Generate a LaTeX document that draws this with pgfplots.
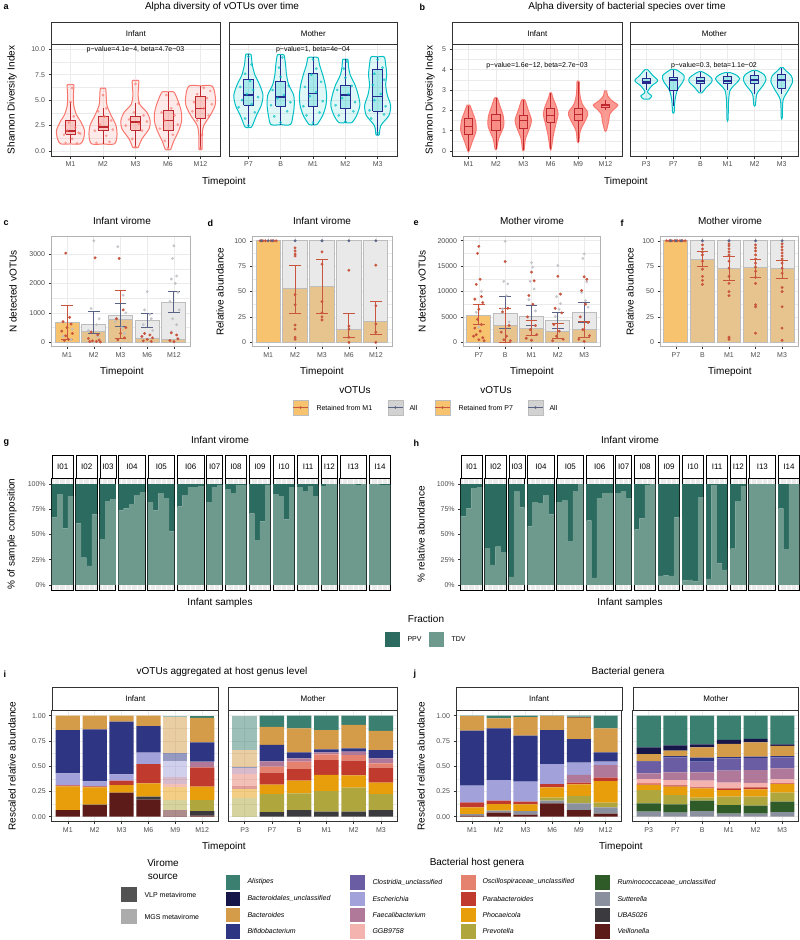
\documentclass[border=0pt]{standalone}
\usepackage{fontspec}
\setmainfont{Liberation Sans}
\usepackage{pgfplots}
\pgfplotsset{compat=1.18}
\usepackage{pgfplotstable}

\definecolor{inf}{HTML}{F8766D}
\definecolor{infd}{HTML}{C0282F}
\definecolor{mot}{HTML}{00BFC4}
\definecolor{motd}{HTML}{262A8F}
\definecolor{gridc}{HTML}{EBEBEB}
\definecolor{tickc}{HTML}{4D4D4D}
\definecolor{frame}{HTML}{333333}
\definecolor{oran}{HTML}{F7C36E}
\definecolor{oranm}{HTML}{E7C48E}
\definecolor{barg}{HTML}{E9E9E9}
\definecolor{barb}{HTML}{BDBDBD}
\definecolor{redp}{HTML}{C8553D}
\definecolor{slate}{HTML}{5B6385}
\definecolor{greyp}{HTML}{BDBEC6}
\definecolor{ppv}{HTML}{2C6B5F}
\definecolor{tdv}{HTML}{6E9A8E}
\definecolor{cAli}{HTML}{3A7F6F}
\definecolor{cBdl}{HTML}{171649}
\definecolor{cBac}{HTML}{D49B48}
\definecolor{cBif}{HTML}{2E3583}
\definecolor{cClo}{HTML}{6B5DA3}
\definecolor{cEsc}{HTML}{A3A1D9}
\definecolor{cFae}{HTML}{B07899}
\definecolor{cGGB}{HTML}{F5B3B0}
\definecolor{cOsc}{HTML}{E5826F}
\definecolor{cPar}{HTML}{C13A2E}
\definecolor{cPho}{HTML}{E89E0A}
\definecolor{cPre}{HTML}{AFA73E}
\definecolor{cRum}{HTML}{2F5B28}
\definecolor{cSut}{HTML}{8B909F}
\definecolor{cUBA}{HTML}{3A3A3F}
\definecolor{cVei}{HTML}{5C1B18}

\newcommand{\ft}{\fontsize{7}{8.4}\selectfont}
\newcommand{\fs}{\fontsize{8}{9.6}\selectfont}
\newcommand{\fl}{\fontsize{10}{12}\selectfont}
\newcommand{\fb}{\fontsize{9}{10.8}\selectfont\bfseries}

\pgfplotsset{
 gg/.style={scale only axis, anchor=north west,
  axis line style={draw=frame, line width=0.6pt},
  tick align=outside, major tick length=2.5pt, minor tick length=0pt,
  tick style={draw=frame, line width=0.5pt},
  xtick pos=left, ytick pos=left,
  scaled ticks=false,
  tick label style={font=\ft, text=tickc},
  /pgf/number format/assume math mode=true,
  xmajorgrids, ymajorgrids,
  major grid style={draw=gridc, line width=0.6pt},
  minor grid style={draw=gridc, line width=0.3pt}},
 nolab/.style={yticklabels={}, ytick style={draw=none}},
 vax/.style={gg, clip=false, xmin=0.4, height=112pt, minor y tick num=1, yminorgrids},
 cf/.style={gg, height=110pt, xmin=0.4, xmax=5.6, xtick={1,...,5}, minor y tick num=1, yminorgrids, axis line style={draw=gray!60, line width=0.8pt}},
 ipt/.style={only marks, mark=*, mark size=1.2pt, inf, opacity=0.55, mark options={draw=none}},
 mpt/.style={only marks, mark=*, mark size=1.2pt, mot, opacity=0.6, mark options={draw=none}},
 barA/.style={ybar, bar width=0.9, bar shift=0pt, fill=barg, draw=barb, line width=1pt},
 barR/.style={ybar, bar width=0.9, bar shift=0pt, fill=oranm, draw=barb, line width=1pt},
 barR1/.style={ybar, bar width=0.9, bar shift=0pt, fill=oran, draw=barb, line width=1pt},
 rpt/.style={only marks, mark=*, mark size=1.25pt, redp, mark options={draw=none}},
 gpt/.style={only marks, mark=*, mark size=1.25pt, greyp, opacity=0.8, mark options={draw=none}},
 spt/.style={only marks, mark=*, mark size=1.25pt, slate, mark options={draw=none}},
 fac/.style={scale only axis, anchor=north west, height=112pt, ymin=-5, ymax=106,
  axis background/.style={fill=gridc},
  axis line style={draw=black, line width=0.6pt},
  xtick={1,...,57}, xticklabels={}, xtick style={draw=none},
  xmajorgrids, major x grid style={draw=white, line width=0.9pt},
  ytick=\empty, ybar stacked, bar width=1,
  every axis plot/.append style={draw=none},
  tick label style={font=\ft, text=tickc},
  /pgf/number format/assume math mode=true},
 facy/.style={ytick={0,25,50,75,100}, yticklabels={0\%,25\%,50\%,75\%,100\%}, ytick pos=left, tick align=outside, major tick length=2.5pt, ytick style={draw=frame, line width=0.5pt}},
 ij/.style={gg, height=111.7pt, ymin=-0.0495, ymax=1.056, xmin=0.4, xmax=6.6, xtick={1,...,6}, ybar stacked, bar width=0.9, ytick={0,0.25,0.5,0.75,1}, yticklabels={0.00,0.25,0.50,0.75,1.00}, minor y tick num=1, yminorgrids},
}

% violin: #1 table, #2 position, #3 colour, #4 fill opacity
\newcommand{\vio}[4]{%
 \addplot[fill=#3, fill opacity=#4, draw=none, smooth] table[x expr=#2+\thisrow{w}, y=y]{#1};
 \addplot[fill=#3, fill opacity=#4, draw=none, smooth] table[x expr=#2-\thisrow{w}, y=y]{#1};
 \addplot[draw=#3, line width=1pt, smooth] table[x expr=#2+\thisrow{w}, y=y]{#1};
 \addplot[draw=#3, line width=1pt, smooth] table[x expr=#2-\thisrow{w}, y=y]{#1};
}
% box: pos, lw, lq, med, uq, uw, line colour, fill colour, fill opacity
\newcommand{\bx}[9]{%
 \pgfmathsetmacro\bxl{#1-0.15}\pgfmathsetmacro\bxr{#1+0.15}%
 \addplot[draw=#7, line width=0.7pt] coordinates {(#1,#2)(#1,#3)};
 \addplot[draw=#7, line width=0.7pt] coordinates {(#1,#5)(#1,#6)};
 \addplot[draw=#7, fill=#8, fill opacity=#9, line width=0.7pt] coordinates {(\bxl,#3)(\bxr,#3)(\bxr,#5)(\bxl,#5)(\bxl,#3)};
 \addplot[draw=#7, line width=1.5pt] coordinates {(\bxl,#4)(\bxr,#4)};
}
% error bar: x, low, high, colour
\newcommand{\eb}[4]{%
 \pgfmathsetmacro\ebl{#1-0.22}\pgfmathsetmacro\ebrr{#1+0.22}%
 \addplot[draw=#4, line width=1pt] coordinates {(#1,#2)(#1,#3)};
 \addplot[draw=#4, line width=1pt] coordinates {(\ebl,#2)(\ebrr,#2)};
 \addplot[draw=#4, line width=1pt] coordinates {(\ebl,#3)(\ebrr,#3)};
}
\newcommand{\stk}[2]{\pgfplotsinvokeforeach{Vei,UBA,Sut,Rum,Pre,Pho,Par,Osc,GGB,Fae,Esc,Clo,Bif,Bac,Bdl,Ali}{\addplot[fill=c##1, draw=none, #2] table[x=x,y=##1]{#1};}}
\newcommand{\gfac}[7]{%
\begin{axis}[fac, at={(#1pt,-478pt)}, width=#2pt, xmin=#3, xmax=#4, #7]
\addplot[fill=tdv] table[x=x,y=t]{#6};
\addplot[fill=ppv] table[x=x,y=p]{#6};
\end{axis}
\node[draw=black, line width=0.6pt, fill=white, minimum width=#2pt, minimum height=23pt, inner sep=0pt, anchor=north west, font=\fs] at (#1pt,-455pt) {#5};
}

% ---------- violin profiles (y, half width) ----------
\pgfplotstableread{
y w
0.7 0
0.7 0.3
1.2 0.4
2.0 0.43
2.8 0.33
3.6 0.18
4.5 0.1
5.5 0.09
6.5 0.1
6.5 0
}\vaA
\pgfplotstableread{
y w
0.7 0
0.7 0.35
1.5 0.43
2.5 0.4
3.5 0.25
4.5 0.12
5.3 0.1
6.15 0.08
6.15 0
}\vaB
\pgfplotstableread{
y w
0.35 0
0.35 0.08
1.2 0.2
2.2 0.42
3.0 0.45
3.8 0.35
4.6 0.13
5.5 0.08
6.9 0.1
6.9 0
}\vaC
\pgfplotstableread{
y w
0.15 0
0.15 0.08
1.0 0.18
2.0 0.33
3.0 0.42
4.0 0.4
5.0 0.3
5.8 0.18
5.8 0
}\vaD
\pgfplotstableread{
y w
0.2 0
0.2 0.05
1.5 0.05
2.5 0.1
3.5 0.3
4.5 0.45
5.5 0.45
6.4 0.35
6.4 0
}\vaE
\pgfplotstableread{
y w
2.35 0
2.35 0.1
3.5 0.25
4.5 0.4
5.5 0.45
6.5 0.35
7.5 0.2
8.5 0.12
9.5 0.08
9.5 0
}\vaF
\pgfplotstableread{
y w
2.6 0
2.6 0.3
3.5 0.38
4.5 0.42
5.5 0.4
6.5 0.25
7.5 0.18
8.5 0.15
9.45 0.1
9.45 0
}\vaG
\pgfplotstableread{
y w
2.6 0
2.6 0.12
3.5 0.3
4.5 0.4
5.5 0.42
6.5 0.38
7.5 0.3
8.5 0.2
9.2 0.15
9.2 0
}\vaH
\pgfplotstableread{
y w
2.8 0
2.8 0.2
3.5 0.35
4.5 0.45
5.5 0.4
6.5 0.3
7.5 0.15
8.3 0.1
9.0 0.08
9.0 0
}\vaI
\pgfplotstableread{
y w
1.6 0
1.6 0.05
2.5 0.1
3.5 0.35
4.5 0.4
5.5 0.3
6.5 0.25
7.5 0.28
8.5 0.25
9.25 0.2
9.25 0
}\vaJ
\pgfplotstableread{
y w
0 0
0 0.02
0.5 0.15
1.0 0.28
1.5 0.25
2.0 0.12
2.25 0.05
2.25 0
}\vbA
\pgfplotstableread{
y w
0.1 0
0.1 0.03
0.6 0.1
1.2 0.28
1.7 0.27
2.2 0.15
2.6 0.05
2.6 0
}\vbB
\pgfplotstableread{
y w
0.05 0
0.05 0.03
0.6 0.08
1.1 0.22
1.5 0.3
2.0 0.18
2.5 0.06
2.5 0
}\vbC
\pgfplotstableread{
y w
0.1 0
0.1 0.02
0.8 0.1
1.4 0.2
1.8 0.27
2.2 0.2
2.6 0.08
2.85 0.03
2.85 0
}\vbD
\pgfplotstableread{
y w
0.45 0
0.45 0.03
1.0 0.08
1.6 0.3
1.9 0.35
2.3 0.15
2.8 0.06
3.4 0.04
3.4 0
}\vbE
\pgfplotstableread{
y w
1.0 0
1.0 0.03
1.5 0.12
1.8 0.15
2.05 0.3
2.25 0.45
2.45 0.25
2.7 0.08
2.95 0.04
2.95 0
}\vbF
\pgfplotstableread{
y w
2.55 0
2.55 0.1
2.7 0.2
2.9 0.05
3.2 0.2
3.45 0.42
3.7 0.25
4.0 0.05
4.0 0
}\vbG
\pgfplotstableread{
y w
1.9 0
1.9 0.03
2.5 0.06
3.0 0.15
3.4 0.35
3.7 0.4
4.0 0.1
4.0 0
}\vbH
\pgfplotstableread{
y w
2.85 0
2.85 0.05
3.1 0.2
3.4 0.42
3.6 0.4
3.8 0.2
3.9 0.05
3.9 0
}\vbI
\pgfplotstableread{
y w
1.55 0
1.55 0.02
2.5 0.04
3.0 0.1
3.3 0.3
3.55 0.45
3.75 0.3
3.85 0.1
3.85 0
}\vbJ
\pgfplotstableread{
y w
2.25 0
2.25 0.03
2.8 0.08
3.2 0.3
3.5 0.42
3.75 0.35
3.95 0.1
3.95 0
}\vbK
\pgfplotstableread{
y w
1.65 0
1.65 0.02
2.5 0.05
3.0 0.25
3.4 0.4
3.7 0.35
3.95 0.15
4.1 0.05
4.1 0
}\vbL

% ---------- g / h fractions ----------
\pgfplotstableread{
x t p
1 67 33
2 90 10
3 56 44
4 88 12
5 61 39
6 27 73
7 19 81
8 70 30
9 45 55
10 83 17
11 85 15
12 74 26
13 76 24
14 80 20
15 89 11
16 92 8
17 82 18
18 74 26
19 91 9
20 86 14
21 53 47
22 78 22
23 89 11
24 97 3
25 97 3
26 98 2
27 82 18
28 97 3
29 99 1
30 95 5
31 91 9
32 99 1
33 99 1
34 71 29
35 44 56
36 63 37
37 99 1
38 90 10
39 88 12
40 65 35
41 97 3
42 97 3
43 93 7
44 98 2
45 88 12
46 98 2
47 100 0
48 100 0
49 100 0
50 100 0
51 100 0
52 99 1
53 100 0
54 100 0
55 100 0
56 99 1
57 99 1
}\gtab
\pgfplotstableread{
x t p
1 68 32
2 76 24
3 96 4
4 97 3
5 36 64
6 20 80
7 38 62
8 32 68
9 8 92
10 93 7
11 77 23
12 58 42
13 82 18
14 81 19
15 89 11
16 70 30
17 82 18
18 84 16
19 43 57
20 93 7
21 100 0
22 64 36
23 7 93
24 86 14
25 91 9
26 91 9
27 91 9
28 93 7
29 86 14
30 55 45
31 66 34
32 99 1
33 100 0
34 9 91
35 9.5 90.5
36 9 91
37 67 33
38 4.5 95.5
39 5 95
40 3.5 96.5
41 87 13
42 6 94
43 99 1
44 21.5 78.5
45 15 85
46 36 64
47 83 17
48 98 2
49 100 0
50 100 0
51 100 0
52 100 0
53 100 0
54 76 24
55 35 65
56 100 0
57 100 0
}\htab

% ---------- i / j genera ----------
\pgfplotstableread{
x Vei UBA Sut Rum Pre Pho Par Osc GGB Fae Esc Clo Bif Bac Bdl Ali
1 0.066 0 0 0 0 0.234 0.01 0 0 0 0.12 0 0.428 0.142 0 0
2 0.115 0.005 0 0 0 0.17 0.01 0 0 0 0.05 0 0.515 0.135 0 0
3 0.238 0 0 0 0 0.075 0.043 0 0 0 0.064 0 0.52 0.06 0 0
4 0.17 0.03 0 0 0 0.13 0.19 0 0 0 0.114 0 0.263 0.103 0 0
5 0 0 0 0 0 0 0 0 0 0 0 0 0 0 0 0
6 0.01 0.046 0 0 0.109 0.132 0.191 0 0 0.057 0 0 0.191 0.241 0 0.023
}\tiI
\pgfplotstableread{
x Vei UBA Sut Rum Pre Pho Par Osc GGB Fae Esc Clo Bif Bac Bdl Ali
1 0 0 0 0 0 0 0 0 0 0 0 0 0 0 0 0
2 0 0 0 0 0 0 0 0 0 0 0 0 0 0 0 0
3 0 0 0 0 0 0 0 0 0 0 0 0 0 0 0 0
4 0 0 0 0 0 0 0 0 0 0 0 0 0 0 0 0
5 0.07 0 0 0 0.095 0.132 0 0.026 0 0.067 0.165 0 0.072 0.356 0 0.017
6 0 0 0 0 0 0 0 0 0 0 0 0 0 0 0 0
}\tiIm
\pgfplotstableread{
x Vei UBA Sut Rum Pre Pho Par Osc GGB Fae Esc Clo Bif Bac Bdl Ali
1 0 0 0 0 0 0 0 0 0 0 0 0 0 0 0 0
2 0 0.046 0 0 0.178 0.093 0.119 0.059 0 0.053 0 0 0.162 0.18 0 0.11
3 0 0.066 0 0 0.164 0.126 0.114 0.075 0 0.033 0 0 0.059 0.238 0 0.125
4 0 0.05 0 0 0.204 0.159 0.148 0.056 0 0.02 0 0 0.03 0.191 0 0.142
5 0 0.05 0 0 0.237 0.123 0.144 0.056 0 0.034 0 0 0.033 0.231 0 0.092
6 0 0.066 0 0 0.158 0.113 0.148 0.043 0 0.05 0 0 0.082 0.19 0 0.15
}\tiM
\pgfplotstableread{
x Vei UBA Sut Rum Pre Pho Par Osc GGB Fae Esc Clo Bif Bac Bdl Ali
1 0 0 0 0 0.19 0.08 0.03 0.12 0 0.065 0 0 0.005 0.17 0 0.34
2 0 0 0 0 0 0 0 0 0 0 0 0 0 0 0 0
3 0 0 0 0 0 0 0 0 0 0 0 0 0 0 0 0
4 0 0 0 0 0 0 0 0 0 0 0 0 0 0 0 0
5 0 0 0 0 0 0 0 0 0 0 0 0 0 0 0 0
6 0 0 0 0 0 0 0 0 0 0 0 0 0 0 0 0
}\tiMm
\pgfplotstableread{
x Vei UBA Sut Rum Pre Pho Par Osc GGB Fae Esc Clo Bif Bac Bdl Ali
1 0.01 0 0.016 0 0 0.066 0.047 0 0 0.006 0.162 0 0.544 0.144 0 0.005
2 0.04 0 0.02 0 0 0.065 0.033 0 0 0 0.205 0 0.512 0.099 0 0.026
3 0.02 0 0.036 0 0 0.066 0.027 0 0 0 0.198 0 0.455 0.183 0 0.015
4 0.132 0 0.026 0 0.03 0.102 0.033 0 0 0 0.197 0 0.338 0.14 0 0.002
5 0.066 0 0.066 0 0.073 0.115 0.017 0 0 0.076 0.122 0 0.234 0.214 0.007 0.01
6 0.03 0 0.062 0 0.047 0.214 0.033 0 0 0.124 0.035 0 0.092 0.238 0 0.125
}\tjI
\pgfplotstableread{
x Vei UBA Sut Rum Pre Pho Par Osc GGB Fae Esc Clo Bif Bac Bdl Ali
1 0 0 0.05 0.082 0.132 0.05 0.006 0.01 0.043 0.057 0 0.115 0.005 0.07 0.066 0.314
2 0 0 0.04 0.082 0.092 0.083 0.013 0 0.053 0.077 0 0.147 0.013 0.053 0.053 0.294
3 0 0 0.055 0.103 0.03 0.092 0.01 0 0.066 0.084 0 0.105 0.039 0.102 0.03 0.284
4 0 0 0.03 0.085 0.083 0.066 0.016 0 0.057 0.118 0 0.123 0.012 0.13 0.04 0.24
5 0 0 0.03 0.08 0.09 0.07 0.02 0 0.045 0.125 0 0.12 0.015 0.14 0.035 0.23
6 0 0 0.045 0.104 0.089 0.085 0.007 0 0.04 0.108 0 0.109 0.013 0.1 0.015 0.285
}\tjM

\begin{document}
\begin{tikzpicture}
\path[use as bounding box] (0pt,0pt) rectangle (800pt,-940pt);

% ================= a =================
\begin{axis}[vax, at={(51pt,-44pt)}, width=169pt, xmax=5.6, ymin=-0.49, ymax=10.52,
 xtick={1,...,5}, xticklabels={M1,M2,M3,M6,M12}, ytick={0,2.5,5,7.5,10}, yticklabels={0.0,2.5,5.0,7.5,10.0}]
\vio{\vaA}{1}{inf}{0.15}
\vio{\vaB}{2}{inf}{0.15}
\vio{\vaC}{3}{inf}{0.15}
\vio{\vaD}{4}{inf}{0.15}
\vio{\vaE}{5}{inf}{0.15}
\addplot[ipt] coordinates {(0.85,0.8)(1.2,0.75)(1.05,1.2)(0.8,1.6)(1.25,1.8)(0.9,2.0)(1.15,2.3)(1.3,1.7)(0.95,2.8)(1.1,3.4)(1.0,4.8)(1.05,6.2)
(1.8,0.8)(2.2,0.9)(2.1,1.5)(1.75,2.0)(2.3,2.1)(1.9,2.6)(2.25,3.0)(2.05,3.4)(1.85,3.9)(2.1,4.2)(2.0,5.5)
(3.0,0.4)(2.9,1.2)(3.2,2.0)(2.7,2.5)(3.1,2.7)(3.35,2.9)(2.8,3.1)(3.25,3.5)(2.95,3.8)(3.1,4.7)(3.0,6.6)
(4.0,0.3)(3.9,1.0)(4.15,1.6)(3.75,2.2)(4.3,2.6)(3.9,3.0)(4.2,3.5)(3.8,3.8)(4.1,4.2)(4.3,4.6)(3.95,5.5)
(5.0,0.3)(5.05,1.6)(4.9,3.0)(5.25,3.5)(4.75,3.9)(5.1,4.2)(5.35,4.6)(4.8,4.8)(5.2,5.2)(4.9,5.6)(5.3,5.9)(5.1,6.2)};
\bx{1}{0.75}{1.65}{1.95}{3.0}{4.85}{infd}{inf}{0.3}
\bx{2}{0.7}{2.0}{2.35}{3.45}{4.2}{infd}{inf}{0.3}
\bx{3}{0.4}{2.05}{2.85}{3.4}{4.7}{infd}{inf}{0.3}
\bx{4}{0.3}{2.05}{3.0}{4.0}{5.8}{infd}{inf}{0.3}
\bx{5}{0.2}{3.25}{4.2}{5.4}{6.4}{infd}{inf}{0.3}
\node[font=\ft] at (axis cs:3,10) {p−value=4.1e−4, beta=4.7e−03};
\end{axis}
\begin{axis}[vax, nolab, at={(229pt,-44pt)}, width=168pt, xmax=5.6, ymin=-0.49, ymax=10.52,
 xtick={1,...,5}, xticklabels={P7,B,M1,M2,M3}, ytick={0,2.5,5,7.5,10}]
\vio{\vaF}{1}{mot}{0.12}
\vio{\vaG}{2}{mot}{0.12}
\vio{\vaH}{3}{mot}{0.12}
\vio{\vaI}{4}{mot}{0.12}
\vio{\vaJ}{5}{mot}{0.12}
\addplot[mpt] coordinates {(1.0,2.5)(0.9,3.2)(1.2,3.8)(0.7,4.3)(1.1,4.6)(0.8,5.0)(1.3,5.3)(0.95,5.6)(1.15,6.0)(0.75,6.3)(1.05,6.9)(0.9,7.6)(1.1,8.5)(1.0,9.3)
(2.0,2.8)(1.8,3.4)(2.2,3.9)(1.7,4.5)(2.3,4.8)(1.9,5.2)(2.1,5.5)(1.75,6.0)(2.25,6.4)(2.0,7.3)(1.95,8.2)(2.05,9.2)
(3.0,2.8)(2.8,3.5)(3.2,3.8)(2.7,4.4)(3.3,4.9)(2.9,5.4)(3.1,5.8)(2.75,6.3)(3.25,6.8)(2.95,7.5)(3.1,8.1)(3.0,9.0)
(4.0,2.9)(3.8,3.5)(4.25,3.9)(3.7,4.5)(4.3,4.8)(3.9,5.2)(4.1,5.6)(3.75,6.0)(4.2,6.4)(4.0,7.2)(3.95,8.1)(4.05,8.8)
(5.0,1.8)(4.8,3.2)(5.2,3.6)(4.75,4.0)(5.25,4.4)(4.9,5.0)(5.1,5.6)(4.85,6.5)(5.2,7.0)(4.9,7.6)(5.15,8.2)(5.0,9.0)};
\bx{1}{2.4}{4.5}{5.5}{7.0}{9.5}{motd}{mot}{0.25}
\bx{2}{2.6}{4.4}{5.3}{6.8}{9.45}{motd}{mot}{0.25}
\bx{3}{2.6}{4.4}{5.65}{7.6}{9.2}{motd}{mot}{0.25}
\bx{4}{2.8}{4.2}{5.5}{6.5}{9.0}{motd}{mot}{0.25}
\bx{5}{1.6}{3.9}{5.35}{8.0}{9.25}{motd}{mot}{0.25}
\node[font=\ft] at (axis cs:3,10) {p−value=1, beta=4e−04};
\end{axis}

% ================= b =================
\begin{axis}[vax, at={(452pt,-44pt)}, width=170pt, xmax=6.6, ymin=-0.25, ymax=5.26,
 xtick={1,...,6}, xticklabels={M1,M2,M3,M6,M9,M12}, ytick={0,1,2,3,4,5}, yticklabels={0,1,2,3,4,5}]
\vio{\vbA}{1}{inf}{0.75}
\vio{\vbB}{2}{inf}{0.75}
\vio{\vbC}{3}{inf}{0.75}
\vio{\vbD}{4}{inf}{0.75}
\vio{\vbE}{5}{inf}{0.75}
\vio{\vbF}{6}{inf}{0.75}
\bx{1}{0.0}{0.8}{1.2}{1.6}{2.2}{infd}{inf}{0.3}
\bx{2}{0.1}{1.0}{1.5}{1.8}{2.6}{infd}{inf}{0.3}
\bx{3}{0.05}{1.1}{1.5}{1.75}{2.5}{infd}{inf}{0.3}
\bx{4}{0.1}{1.4}{1.75}{2.1}{2.85}{infd}{inf}{0.3}
\bx{5}{0.45}{1.5}{1.8}{2.1}{3.4}{infd}{inf}{0.3}
\bx{6}{2.0}{2.15}{2.25}{2.3}{2.5}{infd}{inf}{0.3}
\node[font=\ft] at (axis cs:3.5,4.2) {p−value=1.6e−12, beta=2.7e−03};
\end{axis}
\begin{axis}[vax, nolab, at={(630pt,-44pt)}, width=168pt, xmax=6.6, ymin=-0.25, ymax=5.26,
 xtick={1,...,6}, xticklabels={P3,P7,B,M1,M2,M3}, ytick={0,1,2,3,4,5}]
\vio{\vbG}{1}{mot}{0.15}
\vio{\vbH}{2}{mot}{0.15}
\vio{\vbI}{3}{mot}{0.15}
\vio{\vbJ}{4}{mot}{0.15}
\vio{\vbK}{5}{mot}{0.15}
\vio{\vbL}{6}{mot}{0.15}
\bx{1}{3.0}{3.3}{3.4}{3.55}{3.9}{motd}{mot}{0.25}
\bx{2}{2.2}{3.0}{3.5}{3.6}{4.0}{motd}{mot}{0.25}
\bx{3}{2.9}{3.3}{3.45}{3.6}{3.9}{motd}{mot}{0.25}
\bx{4}{3.0}{3.3}{3.45}{3.65}{3.85}{motd}{mot}{0.25}
\bx{5}{2.8}{3.3}{3.5}{3.7}{3.95}{motd}{mot}{0.25}
\bx{6}{2.8}{3.1}{3.5}{3.75}{4.1}{motd}{mot}{0.25}
\node[font=\ft] at (axis cs:3.5,4.2) {p−value=0.3, beta=1.1e−02};
\end{axis}

% ================= c =================
\begin{axis}[cf, at={(51pt,-236.7pt)}, width=139pt, ymin=-150, ymax=3588,
 xticklabels={M1,M2,M3,M6,M12}, ytick={0,1000,2000,3000}, yticklabels={0,1000,2000,3000}]
\addplot[barA] coordinates {(2,590)(3,895)(4,735)(5,1350)};
\addplot[barR] coordinates {(2,370)(3,760)(4,135)(5,80)};
\addplot[barR1] coordinates {(1,667)};
\addplot[gpt] coordinates {(0.85,200)(1.15,90)(1.2,450)(2.0,3450)(1.9,1150)(2.2,800)(2.1,600)(1.8,400)(2.15,200)
(2.9,3250)(3.1,1600)(3.2,1000)(2.8,700)(3.05,500)(3.15,300)(4.0,1720)(3.9,1100)(4.1,950)(4.15,800)(3.85,600)(4.2,400)
(5.0,3280)(4.95,2850)(5.1,2250)(4.9,2150)(5.05,2000)(5.15,1700)(4.85,1400)(5.2,1100)(4.95,800)(5.1,600)(4.9,350)};
\addplot[rpt] coordinates {(0.95,3030)(1.1,850)(0.85,700)(1.15,620)(1.0,500)(0.8,380)(1.2,300)(0.95,220)(1.05,100)(0.9,60)
(2.05,2870)(1.9,350)(2.15,250)(1.8,130)(2.2,80)(1.95,50)(2.1,30)(1.85,20)(2.25,10)
(2.95,2850)(3.1,1100)(2.85,800)(3.2,500)(3.0,300)(3.15,150)(2.9,80)
(3.9,300)(4.1,250)(3.8,200)(4.2,150)(4.0,100)(3.85,50)(4.15,30)
(4.9,320)(5.1,250)(5.15,120)(4.85,60)(5.0,20)};
\eb{1}{97}{1237}{redp}
\eb{3}{140}{1750}{redp}
\eb{2}{300}{1030}{slate}
\eb{3}{525}{1315}{slate}
\eb{4}{500}{970}{slate}
\eb{5}{1010}{1710}{slate}
\end{axis}

% ================= d =================
\begin{axis}[cf, at={(252pt,-236.7pt)}, width=140pt, ymin=-4.3, ymax=104,
 xticklabels={M1,M2,M3,M6,M12}, ytick={0,25,50,75,100}, yticklabels={0,25,50,75,100}]
\addplot[barA] coordinates {(2,100)(3,100)(4,100)(5,100)};
\addplot[barR] coordinates {(2,53)(3,55)(4,13)(5,21)};
\addplot[barR1] coordinates {(1,100)};
\addplot[rpt] coordinates {(0.7,100)(0.8,100)(0.9,100)(1.1,100)(1.2,100)(1.3,100)
(2,93)(2,90)(2,87)(2,85)(2,47)(2,37)(2,17)(2,13)(2,5)(2,3)
(3,89)(3,77)(3,40)(3,29)(3,25)(3,22)
(4,71)(4,16)(4,13)(4,5)(4,0)
(5,76)(5,36)(5,18)(5,10)(5,0)};
\addplot[spt] coordinates {(1.0,100)(1.15,100)(0.75,100)(2,100)(3,100)(4,100)(5,100)};
\eb{2}{28}{76}{redp}
\eb{3}{28.5}{81.5}{redp}
\eb{4}{4.5}{28.5}{redp}
\eb{5}{8}{40}{redp}
\end{axis}

% ================= e =================
\begin{axis}[cf, at={(463pt,-236.7pt)}, width=137pt, ymin=-866, ymax=20787,
 xticklabels={P7,B,M1,M2,M3}, ytick={0,5000,10000,15000,20000}, yticklabels={0,5000,10000,15000,20000}]
\addplot[barA] coordinates {(2,5650)(3,5100)(4,4300)(5,5800)};
\addplot[barR] coordinates {(2,3300)(3,2800)(4,2200)(5,2500)};
\addplot[barR1] coordinates {(1,5300)};
\addplot[gpt] coordinates {(1.1,10000)(0.9,5900)(1.0,3000)
(2.0,19900)(1.95,12000)(2.1,11500)(2.05,9200)(1.9,6600)(2.15,4000)
(3.0,15700)(3.05,14800)(2.95,12000)(3.1,10500)(2.9,8400)(3.15,6200)
(4.0,15100)(3.95,9000)(4.1,7600)(4.05,6500)(3.9,5100)
(5.0,17400)(4.95,16500)(5.1,11900)(4.9,9800)(5.05,8200)(5.15,6900)};
\addplot[rpt] coordinates {(1.0,18900)(0.95,17500)(1.05,12400)(0.9,11400)(1.1,9000)(0.85,8500)(1.15,7800)(1.0,6500)(0.95,4500)(1.1,3500)(0.85,2800)(1.05,2200)(0.9,1500)(1.15,900)(1.0,500)(1.2,300)(0.8,1200)
(2.0,15900)(2.1,6700)(1.9,6000)(2.15,3300)(1.85,2000)(2.05,1200)(1.95,500)(2.2,300)
(3.0,13800)(3.1,12100)(2.9,9200)(3.05,7500)(2.85,5000)(3.15,3300)(2.95,2500)(3.2,1500)(2.8,800)(3.0,400)
(4.0,13000)(4.1,9500)(3.9,6700)(4.15,5800)(3.85,3500)(4.05,2200)(3.95,1200)(4.2,600)(3.8,300)
(5.0,12900)(5.1,12400)(4.9,10200)(5.05,7500)(4.85,5000)(5.15,3900)(4.95,2500)(5.2,1300)(4.8,600)(5.0,200)};
\eb{2}{2750}{9100}{slate}
\eb{3}{3250}{7150}{slate}
\eb{4}{2800}{5950}{slate}
\eb{5}{3950}{7800}{slate}
\eb{1}{3600}{7350}{redp}
\eb{2}{0}{6600}{redp}
\eb{3}{1300}{4300}{redp}
\eb{4}{750}{3650}{redp}
\eb{5}{1000}{4000}{redp}
\end{axis}

% ================= f =================
\begin{axis}[cf, at={(660pt,-236.7pt)}, width=138pt, ymin=-4.3, ymax=104,
 xticklabels={P7,B,M1,M2,M3}, ytick={0,25,50,75,100}, yticklabels={0,25,50,75,100}]
\addplot[barA] coordinates {(2,100)(3,100)(4,100)(5,100)};
\addplot[barR] coordinates {(2,82)(3,73)(4,74)(5,73)};
\addplot[barR1] coordinates {(1,100)};
\addplot[rpt] coordinates {(0.65,100)(0.75,100)(0.85,100)(0.95,100)(1.05,100)(1.15,100)(1.25,100)(1.35,100)
(2,96)(2,92)(2,89)(2,86)(2,80)(2,72)(2,65)(2,61)(2,57)
(3,97)(3,95)(3,92)(3,89)(3,86)(3,80)(3,73)(3,65)(3,58)(3,50)(3,46)(3,5)(3,3)
(4,96)(4,93)(4,90)(4,86)(4,82)(4,78)(4,74)(4,70)(4,64)(4,58)(4,37)(4,35)(4,9)
(5,97)(5,94)(5,91)(5,88)(5,85)(5,82)(5,78)(5,73)(5,68)(5,54)(5,50)(5,35)(5,14)(5,2)};
\addplot[spt] coordinates {(0.8,100)(1.0,100)(1.2,100)(2,100)(3,100)(4,100)(5,100)};
\eb{2}{75}{89}{redp}
\eb{3}{60.7}{84.3}{redp}
\eb{4}{64}{82}{redp}
\eb{5}{63}{81}{redp}
\end{axis}

% ================= g =================
\gfac{51.7}{21.4}{0.5}{4.5}{I01}{\gtab}{facy}
\gfac{75.7}{21.4}{4.5}{8.5}{I02}{\gtab}{}
\gfac{99.7}{16.05}{8.5}{11.5}{I03}{\gtab}{}
\gfac{118.35}{26.75}{11.5}{16.5}{I04}{\gtab}{}
\gfac{147.7}{26.75}{16.5}{21.5}{I05}{\gtab}{}
\gfac{177.05}{26.75}{21.5}{26.5}{I06}{\gtab}{}
\gfac{206.4}{16.05}{26.5}{29.5}{I07}{\gtab}{}
\gfac{225.05}{21.4}{29.5}{33.5}{I08}{\gtab}{}
\gfac{249.05}{21.4}{33.5}{37.5}{I09}{\gtab}{}
\gfac{273.05}{21.4}{37.5}{41.5}{I10}{\gtab}{}
\gfac{297.05}{21.4}{41.5}{45.5}{I11}{\gtab}{}
\gfac{321.05}{16.05}{45.5}{48.5}{I12}{\gtab}{}
\gfac{339.7}{26.75}{48.5}{53.5}{I13}{\gtab}{}
\gfac{369.05}{21.4}{53.5}{57.5}{I14}{\gtab}{}
% ================= h =================
\gfac{460.7}{21.4}{0.5}{4.5}{I01}{\htab}{facy}
\gfac{484.7}{21.4}{4.5}{8.5}{I02}{\htab}{}
\gfac{508.7}{16.05}{8.5}{11.5}{I03}{\htab}{}
\gfac{527.35}{26.75}{11.5}{16.5}{I04}{\htab}{}
\gfac{556.7}{26.75}{16.5}{21.5}{I05}{\htab}{}
\gfac{586.05}{26.75}{21.5}{26.5}{I06}{\htab}{}
\gfac{615.4}{16.05}{26.5}{29.5}{I07}{\htab}{}
\gfac{634.05}{21.4}{29.5}{33.5}{I08}{\htab}{}
\gfac{658.05}{21.4}{33.5}{37.5}{I09}{\htab}{}
\gfac{682.05}{21.4}{37.5}{41.5}{I10}{\htab}{}
\gfac{706.05}{21.4}{41.5}{45.5}{I11}{\htab}{}
\gfac{730.05}{16.05}{45.5}{48.5}{I12}{\htab}{}
\gfac{748.7}{26.75}{48.5}{53.5}{I13}{\htab}{}
\gfac{778.05}{21.4}{53.5}{57.5}{I14}{\htab}{}

% ================= i =================
\begin{axis}[ij, at={(51.7pt,-710pt)}, width=166.6pt, xticklabels={M1,M2,M3,M6,M9,M12}]
\stk{\tiI}{}
\stk{\tiIm}{fill opacity=0.5}
\end{axis}
\begin{axis}[ij, nolab, at={(228.3pt,-710pt)}, width=169pt, xticklabels={P3,P7,B,M1,M2,M3}]
\stk{\tiM}{}
\stk{\tiMm}{fill opacity=0.5}
\end{axis}
% ================= j =================
\begin{axis}[ij, at={(456pt,-710pt)}, width=165.7pt, xticklabels={M1,M2,M3,M6,M9,M12}]
\stk{\tjI}{}
\end{axis}
\begin{axis}[ij, nolab, at={(632.7pt,-710pt)}, width=165.6pt, xticklabels={P3,P7,B,M1,M2,M3}]
\stk{\tjM}{}
\end{axis}

% ================= text, strips, legends =================
\begin{scope}[x=1pt,y=-1pt]
\node[anchor=west, font=\fb] at (0,7) {a};
\node[anchor=west, font=\fb] at (416,7) {b};
\node[anchor=west, font=\fb] at (0,223) {c};
\node[anchor=west, font=\fb] at (204,223) {d};
\node[anchor=west, font=\fb] at (410,223) {e};
\node[anchor=west, font=\fb] at (617,223) {f};
\node[anchor=west, font=\fb] at (0,443) {g};
\node[anchor=west, font=\fb] at (410,443) {h};
\node[anchor=west, font=\fb] at (0,674) {i};
\node[anchor=west, font=\fb] at (410,674) {j};
\node[font=\fl] at (222,6.5) {Alpha diversity of vOTUs over time};
\node[font=\fl] at (627,6.5) {Alpha diversity of bacterial species over time};
\node[font=\fl] at (122,220.5) {Infant virome};
\node[font=\fl] at (322,220.5) {Infant virome};
\node[font=\fl] at (532,220.5) {Mother virome};
\node[font=\fl] at (730,220.5) {Mother virome};
\node[font=\fl] at (220,440) {Infant virome};
\node[font=\fl] at (630,440) {Infant virome};
\node[font=\fl] at (222,672) {vOTUs aggregated at host genus level};
\node[font=\fl] at (628,672) {Bacterial genera};
\node[draw=frame, line width=0.6pt, fill=white, minimum width=169pt, minimum height=22pt, inner sep=0pt, anchor=north west, font=\fs] at (51,22) {Infant};
\node[draw=frame, line width=0.6pt, fill=white, minimum width=168pt, minimum height=22pt, inner sep=0pt, anchor=north west, font=\fs] at (229,22) {Mother};
\node[draw=frame, line width=0.6pt, fill=white, minimum width=170pt, minimum height=22pt, inner sep=0pt, anchor=north west, font=\fs] at (452,22) {Infant};
\node[draw=frame, line width=0.6pt, fill=white, minimum width=168pt, minimum height=22pt, inner sep=0pt, anchor=north west, font=\fs] at (630,22) {Mother};
\node[draw=frame, line width=0.6pt, fill=white, minimum width=166.6pt, minimum height=23.3pt, inner sep=0pt, anchor=north west, font=\fs] at (51.7,686.7) {Infant};
\node[draw=frame, line width=0.6pt, fill=white, minimum width=169pt, minimum height=23.3pt, inner sep=0pt, anchor=north west, font=\fs] at (228.3,686.7) {Mother};
\node[draw=frame, line width=0.6pt, fill=white, minimum width=165.7pt, minimum height=23.3pt, inner sep=0pt, anchor=north west, font=\fs] at (456,686.7) {Infant};
\node[draw=frame, line width=0.6pt, fill=white, minimum width=165.6pt, minimum height=23.3pt, inner sep=0pt, anchor=north west, font=\fs] at (632.7,686.7) {Mother};
\node[rotate=90, font=\fl] at (12,100) {Shannon Diversity Index};
\node[rotate=90, font=\fl] at (430,100) {Shannon Diversity Index};
\node[rotate=90, font=\fl] at (13,291.7) {N detected vOTUs};
\node[rotate=90, font=\fl] at (220,291.7) {Relative abundance};
\node[rotate=90, font=\fl] at (422,291.7) {N detected vOTUs};
\node[rotate=90, font=\fl] at (630,291.7) {Relative abundance};
\node[rotate=90, font=\fl] at (12,534) {\% of sample composition};
\node[rotate=90, font=\fl] at (421,534) {\% relative abundance};
\node[rotate=90, font=\fl] at (12,766) {Rescaled relative abundance};
\node[rotate=90, font=\fl] at (421,766) {Rescaled relative abundance};
\node[font=\fl] at (224,182) {Timepoint};
\node[font=\fl] at (626,182) {Timepoint};
\node[font=\fl] at (122,372) {Timepoint};
\node[font=\fl] at (322,372) {Timepoint};
\node[font=\fl] at (532,372) {Timepoint};
\node[font=\fl] at (730,372) {Timepoint};
\node[font=\fl] at (220,603) {Infant samples};
\node[font=\fl] at (630,603) {Infant samples};
\node[font=\fl] at (224,847) {Timepoint};
\node[font=\fl] at (621,847) {Timepoint};
\node[font=\fl] at (355,390) {vOTUs};
\node[font=\fl] at (496,390) {vOTUs};
\filldraw[fill=oran, draw=barb, line width=1pt] (293,400) rectangle (308,415);
\draw[redp, line width=1pt] (293,407.5) -- (308,407.5); \fill[redp] (300.5,407.5) circle (1.4pt);
\node[anchor=west, font=\ft] at (313,407.5) {Retained from M1};
\filldraw[fill=gray!35, draw=barb, line width=1pt] (388,400) rectangle (403,415);
\draw[slate, line width=1pt] (388,407.5) -- (403,407.5); \fill[slate] (395.5,407.5) circle (1.4pt);
\node[anchor=west, font=\ft] at (406,407.5) {All};
\filldraw[fill=oran, draw=barb, line width=1pt] (435,400) rectangle (450,415);
\draw[redp, line width=1pt] (435,407.5) -- (450,407.5); \fill[redp] (442.5,407.5) circle (1.4pt);
\node[anchor=west, font=\ft] at (455,407.5) {Retained from P7};
\filldraw[fill=gray!35, draw=barb, line width=1pt] (528,400) rectangle (543,415);
\draw[slate, line width=1pt] (528,407.5) -- (543,407.5); \fill[slate] (535.5,407.5) circle (1.4pt);
\node[anchor=west, font=\ft] at (546,407.5) {All};
\node[font=\fl] at (426,619) {Fraction};
\fill[ppv] (385,632) rectangle (400,647);
\node[anchor=west, font=\ft] at (404,639.5) {PPV};
\fill[tdv] (429,632) rectangle (444,647);
\node[anchor=west, font=\ft] at (448,639.5) {TDV};
\node[font=\fl] at (163,863) {Virome};
\node[font=\fl] at (163,877) {source};
\fill[gray!65!black] (121,887) rectangle (137,902);
\node[anchor=west, font=\ft] at (141,894.5) {VLP metavirome};
\fill[gray!65] (121,909) rectangle (137,924);
\node[anchor=west, font=\ft] at (141,916.5) {MGS metavirome};
\node[font=\fl] at (477,863) {Bacterial host genera};
\fill[cAli] (225.5,875) rectangle ++(14.5,14.5); \node[anchor=west, font=\ft\itshape] at (244,882) {Alistipes};
\fill[cBdl] (225.5,891.5) rectangle ++(14.5,14.5); \node[anchor=west, font=\ft\itshape] at (244,898.5) {Bacteroidales\_unclassified};
\fill[cBac] (225.5,907.7) rectangle ++(14.5,14.5); \node[anchor=west, font=\ft\itshape] at (244,914.7) {Bacteroides};
\fill[cBif] (225.5,924) rectangle ++(14.5,14.5); \node[anchor=west, font=\ft\itshape] at (244,931) {Bifidobacterium};
\fill[cClo] (350,875) rectangle ++(14.5,14.5); \node[anchor=west, font=\ft\itshape] at (369,882) {Clostridia\_unclassified};
\fill[cEsc] (350,891.5) rectangle ++(14.5,14.5); \node[anchor=west, font=\ft\itshape] at (369,898.5) {Escherichia};
\fill[cFae] (350,907.7) rectangle ++(14.5,14.5); \node[anchor=west, font=\ft\itshape] at (369,914.7) {Faecalibacterium};
\fill[cGGB] (350,924) rectangle ++(14.5,14.5); \node[anchor=west, font=\ft\itshape] at (369,931) {GGB9758};
\fill[cOsc] (461,875) rectangle ++(14.5,14.5); \node[anchor=west, font=\ft\itshape] at (479,882) {Oscillospiraceae\_unclassified};
\fill[cPar] (461,891.5) rectangle ++(14.5,14.5); \node[anchor=west, font=\ft\itshape] at (479,898.5) {Parabacteroides};
\fill[cPho] (461,907.7) rectangle ++(14.5,14.5); \node[anchor=west, font=\ft\itshape] at (479,914.7) {Phocaeicola};
\fill[cPre] (461,924) rectangle ++(14.5,14.5); \node[anchor=west, font=\ft\itshape] at (479,931) {Prevotella};
\fill[cRum] (595,875) rectangle ++(14.5,14.5); \node[anchor=west, font=\ft\itshape] at (614,882) {Ruminococcaceae\_unclassified};
\fill[cSut] (595,891.5) rectangle ++(14.5,14.5); \node[anchor=west, font=\ft\itshape] at (614,898.5) {Sutterella};
\fill[cUBA] (595,907.7) rectangle ++(14.5,14.5); \node[anchor=west, font=\ft\itshape] at (614,914.7) {UBA5026};
\fill[cVei] (595,924) rectangle ++(14.5,14.5); \node[anchor=west, font=\ft\itshape] at (614,931) {Veillonella};
\end{scope}
\end{tikzpicture}
\end{document}
